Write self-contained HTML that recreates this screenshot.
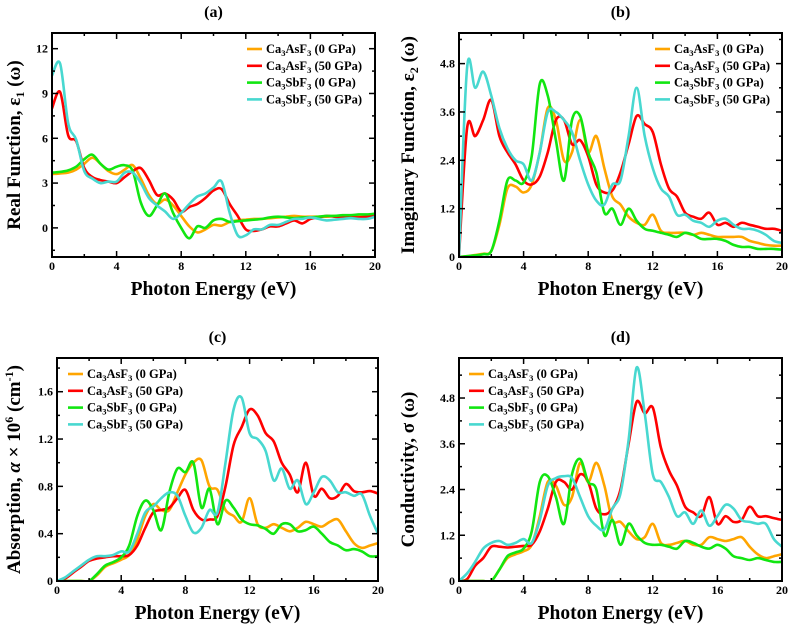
<!DOCTYPE html>
<html><head><meta charset="utf-8"><style>
body{margin:0;background:#fff}
svg{display:block;font-family:"Liberation Serif",serif;font-weight:bold}
</style></head><body>
<svg id="fig" width="789" height="629" viewBox="0 0 789 629" xmlns="http://www.w3.org/2000/svg"></svg>
<script>
const energy = [0,0.5,1,1.5,2,2.5,3,3.5,4,4.5,5,5.5,6,6.5,7,7.5,8,8.5,9,9.5,10,10.5,11,11.5,12,12.5,13,13.5,14,14.5,15,15.5,16,16.5,17,17.5,18,18.5,19,19.5,20];
const seriesNames = ["Ca3AsF3 (0 GPa)","Ca3AsF3 (50 GPa)","Ca3SbF3 (0 GPa)","Ca3SbF3 (50 GPa)"];
// (a) real part eps1
const epsRealAs0 = [3.6,3.65,3.7,3.9,4.3,4.7,4.3,3.8,3.6,3.9,4.2,3.3,2.2,1.6,1.9,1.5,0.8,0.1,-0.3,-0.1,0.2,0.15,0.4,0.5,0.55,0.6,0.6,0.65,0.7,0.75,0.8,0.75,0.75,0.75,0.75,0.8,0.8,0.8,0.8,0.85,0.9];
const epsRealAs50 = [8.0,9.1,6.2,5.8,4.0,3.4,3.2,3.1,3.0,3.4,3.8,4.0,3.2,2.2,2.3,1.9,1.1,1.4,1.6,2.0,2.5,2.6,1.6,0.8,-0.1,-0.2,-0.1,0.1,0.1,0.3,0.5,0.3,0.6,0.7,0.8,0.75,0.7,0.7,0.7,0.75,0.85];
const epsRealSb0 = [3.7,3.75,3.85,4.1,4.6,4.9,4.3,3.9,4.1,4.2,3.8,1.7,0.8,1.5,2.3,1.0,0.0,-0.7,0.1,0.0,0.5,0.6,0.4,0.45,0.5,0.55,0.6,0.7,0.75,0.7,0.65,0.7,0.7,0.75,0.8,0.8,0.85,0.85,0.9,0.9,0.95];
const epsRealSb50 = [10.2,11.0,7.0,5.9,3.8,3.3,3.0,3.1,3.1,3.7,3.7,3.0,2.0,1.5,1.1,0.6,1.0,1.6,2.1,2.3,2.7,3.1,1.0,-0.5,-0.5,-0.1,-0.1,0.2,0.2,0.4,0.6,0.6,0.7,0.6,0.5,0.55,0.6,0.65,0.6,0.6,0.75];
// (b) imaginary part eps2
const epsImagAs0 = [0,0.02,0.05,0.08,0.15,0.8,1.7,1.75,1.6,1.8,2.6,3.7,3.4,2.4,2.6,3.4,2.6,3.0,2.2,1.5,1.3,1.0,0.85,0.8,1.05,0.65,0.6,0.6,0.6,0.55,0.6,0.55,0.5,0.5,0.5,0.5,0.4,0.35,0.3,0.28,0.28];
const epsImagAs50 = [0,3.2,3.0,3.4,3.9,3.0,2.6,2.3,1.9,1.8,2.0,2.6,3.4,3.4,2.8,2.9,2.5,1.8,1.6,1.65,2.1,2.8,3.5,3.3,3.1,2.3,1.7,1.5,1.1,1.0,0.95,1.1,0.8,0.85,0.75,0.85,0.8,0.75,0.7,0.7,0.65];
const epsImagSb0 = [0,0.02,0.04,0.07,0.15,0.9,1.9,1.9,1.85,2.5,4.3,4.0,2.9,1.9,3.4,3.5,2.6,2.1,1.1,1.2,0.8,1.2,0.9,0.7,0.65,0.6,0.55,0.5,0.6,0.55,0.45,0.45,0.45,0.4,0.3,0.25,0.25,0.2,0.2,0.2,0.18];
const epsImagSb50 = [0,4.7,4.2,4.6,4.0,3.2,2.7,2.4,2.3,1.9,2.6,3.6,3.6,3.4,3.1,2.4,1.8,1.4,1.3,1.8,1.9,3.0,4.2,3.0,2.2,1.7,1.5,1.05,1.05,0.9,0.85,0.75,0.9,0.95,0.8,0.7,0.7,0.65,0.55,0.4,0.35];
// (c) absorption x1e6
const absAs0 = [0,0,0,0,0,0.05,0.12,0.15,0.18,0.22,0.35,0.55,0.65,0.6,0.6,0.75,0.9,1.0,1.02,0.8,0.77,0.6,0.55,0.5,0.7,0.48,0.45,0.48,0.45,0.42,0.45,0.5,0.48,0.46,0.5,0.52,0.42,0.32,0.28,0.3,0.32];
const absAs50 = [0,0.02,0.07,0.12,0.17,0.19,0.2,0.21,0.21,0.22,0.3,0.45,0.58,0.6,0.62,0.7,0.77,0.6,0.52,0.52,0.55,0.8,1.15,1.3,1.45,1.4,1.25,1.18,1.0,0.9,0.75,1.0,0.72,0.78,0.7,0.72,0.82,0.76,0.75,0.76,0.74];
const absSb0 = [0,0,0,0,0,0.06,0.13,0.16,0.2,0.3,0.55,0.68,0.6,0.43,0.75,0.95,0.92,1.0,0.62,0.78,0.48,0.68,0.62,0.52,0.48,0.47,0.44,0.4,0.48,0.48,0.42,0.43,0.46,0.4,0.33,0.3,0.26,0.27,0.25,0.21,0.21];
const absSb50 = [0,0.03,0.08,0.13,0.18,0.21,0.21,0.22,0.25,0.25,0.4,0.58,0.63,0.7,0.75,0.72,0.55,0.41,0.45,0.6,0.58,1.0,1.45,1.55,1.25,1.2,1.1,0.85,0.95,0.78,0.85,0.65,0.75,0.88,0.85,0.75,0.75,0.72,0.73,0.55,0.4];
// (d) conductivity
const condAs0 = [0,0,0,0,0,0.3,0.6,0.7,0.78,0.95,1.7,2.6,2.5,2.0,2.2,3.1,2.6,3.1,2.5,1.6,1.55,1.3,1.1,1.15,1.5,1.0,0.95,1.0,1.05,0.95,0.95,1.15,1.1,1.05,1.1,1.15,0.9,0.7,0.6,0.65,0.7];
const condAs50 = [0,0.05,0.4,0.6,0.9,0.9,0.88,0.9,0.92,0.95,1.3,1.9,2.6,2.6,2.4,2.8,2.6,1.9,1.75,1.9,2.4,3.6,4.7,4.4,4.55,3.5,2.9,2.5,1.95,1.8,1.7,2.2,1.5,1.7,1.55,1.6,1.95,1.7,1.7,1.65,1.6];
const condSb0 = [0,0,0,0,0,0.3,0.65,0.75,0.85,1.3,2.6,2.75,2.2,1.5,2.8,3.2,2.6,2.4,1.2,1.6,0.95,1.5,1.2,1.0,0.95,0.95,0.9,0.85,1.05,1.0,0.9,0.85,0.95,0.85,0.65,0.6,0.55,0.6,0.55,0.5,0.5];
const condSb50 = [0,0.2,0.5,0.85,1.0,1.05,0.95,1.0,1.1,1.0,1.6,2.5,2.7,2.75,2.7,2.2,1.7,1.45,1.35,1.9,2.3,3.7,5.6,4.4,2.8,2.6,2.2,1.7,1.8,1.5,1.85,1.45,1.7,2.0,1.9,1.6,1.55,1.5,1.5,1.1,0.9];
const xTicks = [0,4,8,12,16,20];
const yTicksA = [0,3,6,9,12];
const yTicksB = [0,1.2,2.4,3.6,4.8];
const yTicksC = [0,0.4,0.8,1.2,1.6];
const yTicksD = [0,1.2,2.4,3.6,4.8];
const yTickLabelsA = ["0","3","6","9","12"];
const yTickLabelsB = ["0","1.2","2.4","3.6","4.8"];
const yTickLabelsC = ["0","0.4","0.8","1.2","1.6"];
const yTickLabelsD = ["0","1.2","2.4","3.6","4.8"];

const colors = ["#FFA500","#FF0000","#11E611","#48D8D0"];
const NS = "http://www.w3.org/2000/svg";
const svg = document.getElementById('fig');
function mk(tag, attrs, parent){const e=document.createElementNS(NS,tag);for(const k in attrs)e.setAttribute(k,attrs[k]);(parent||svg).appendChild(e);return e;}

function smoothPath(pts){
  let d="M"+pts[0][0].toFixed(1)+","+pts[0][1].toFixed(1);
  for(let i=0;i<pts.length-1;i++){
    const p0=pts[Math.max(i-1,0)],p1=pts[i],p2=pts[i+1],p3=pts[Math.min(i+2,pts.length-1)];
    const c1=[p1[0]+(p2[0]-p0[0])/6,p1[1]+(p2[1]-p0[1])/6];
    const c2=[p2[0]-(p3[0]-p1[0])/6,p2[1]-(p3[1]-p1[1])/6];
    d+="C"+c1[0].toFixed(1)+","+c1[1].toFixed(1)+" "+c2[0].toFixed(1)+","+c2[1].toFixed(1)+" "+p2[0].toFixed(1)+","+p2[1].toFixed(1);
  }
  return d;
}

function panel(cfg){
  const g=mk('g',{});
  
  
  const {L,R,T,B,ymin,ymax}=cfg;
  const xs=v=>L+(v-0)/20*(R-L);
  const ys=v=>B-(v-ymin)/(ymax-ymin)*(B-T);
  const clipId='clip-'+cfg.id;
  const cp=mk('clipPath',{id:clipId},g);
  mk('rect',{x:L,y:T,width:R-L,height:B-T},cp);
  const sg=mk('g',{'clip-path':'url(#'+clipId+')'},g);
  cfg.series.forEach((s,i)=>{
    const pts=energy.map((e,j)=>[xs(e),ys(s[j])]);
    const p=mk('path',{d:smoothPath(pts),fill:'none',stroke:colors[i],'stroke-width':2.6,'stroke-linejoin':'round'},sg);
    
    
  });
  const fr=mk('rect',{x:L,y:T,width:R-L,height:B-T,fill:'none',stroke:'#000','stroke-width':2},g);
  
  
  for(let v=0;v<=20;v+=2){
    const len=(v%4===0)?6:3;
    mk('line',{x1:xs(v),x2:xs(v),y1:B,y2:B-len,stroke:'#000','stroke-width':1.5},g);
    mk('line',{x1:xs(v),x2:xs(v),y1:T,y2:T+len,stroke:'#000','stroke-width':1.5},g);
  }
  xTicks.forEach(v=>{
    const t=mk('text',{x:xs(v),y:B+13,'text-anchor':'middle','font-size':12},g);
    t.textContent=String(v);
    
    
  });
  const step=cfg.yt[1]-cfg.yt[0];
  for(let v=cfg.yt[0]-step; v<=ymax+1e-9; v+=step/2){
    if(v<ymin-1e-9) continue;
    const major=Math.abs(((v-cfg.yt[0])/step)-Math.round((v-cfg.yt[0])/step))<1e-6;
    const len=major?6:3;
    mk('line',{x1:L,x2:L+len,y1:ys(v),y2:ys(v),stroke:'#000','stroke-width':1.5},g);
    mk('line',{x1:R,x2:R-len,y1:ys(v),y2:ys(v),stroke:'#000','stroke-width':1.5},g);
  }
  cfg.yt.forEach((v,i)=>{
    const t=mk('text',{x:L-4,y:ys(v)+4,'text-anchor':'end','font-size':12},g);
    t.textContent=cfg.ytl[i];
    
    
  });
  const tt=mk('text',{x:(L+R)/2,y:T-16,'text-anchor':'middle','font-size':16},g);
  tt.textContent=cfg.title;
  
  
  const xl=mk('text',{x:(L+R)/2,y:B+38,'text-anchor':'middle','font-size':19.5},g);
  xl.textContent="Photon Energy (eV)";
  
  
  const yl=mk('text',{transform:'translate('+cfg.ylx+','+(T+B)/2+') rotate(-90)','text-anchor':'middle','font-size':19},g);
  yl.innerHTML=cfg.ylabel;
  
  
  cfg.series.forEach((s,i)=>{
    const y=cfg.legY+i*16.8;
    const lg=mk('g',{},g);
    
    
    mk('line',{x1:cfg.legX,x2:cfg.legX+15,y1:y,y2:y,stroke:colors[i],'stroke-width':2.6},lg);
    const t=mk('text',{x:cfg.legX+19,y:y+4,'font-size':12.5},lg);
    const parts=seriesNames[i].match(/^Ca3(As|Sb)F3 (.*)$/);
    t.innerHTML='Ca<tspan font-size="8.5" dy="3">3</tspan><tspan dy="-3">'+parts[1]+'F</tspan><tspan font-size="8.5" dy="3">3</tspan><tspan dy="-3"> '+parts[2]+'</tspan>';
  });
}

panel({id:'a',title:'(a)',L:52,R:375,T:33,B:257,ymin:-1.95,ymax:13.05,yt:yTicksA,ytl:yTickLabelsA,
  series:[epsRealAs0,epsRealAs50,epsRealSb0,epsRealSb50],legX:247,legY:49,ylx:20,
  ylabel:'Real Function, ε<tspan font-size="12" dy="4">1</tspan><tspan dy="-4"> (ω)</tspan>'});
panel({id:'b',title:'(b)',L:459,R:782,T:33,B:257,ymin:0,ymax:5.56,yt:yTicksB,ytl:yTickLabelsB,
  series:[epsImagAs0,epsImagAs50,epsImagSb0,epsImagSb50],legX:655,legY:49,ylx:414,
  ylabel:'Imaginary Function, ε<tspan font-size="12" dy="4">2</tspan><tspan dy="-4"> (ω)</tspan>'});
panel({id:'c',title:'(c)',L:57,R:378,T:358,B:581,ymin:0,ymax:1.885,yt:yTicksC,ytl:yTickLabelsC,
  series:[absAs0,absAs50,absSb0,absSb50],legX:68,legY:374,ylx:20,
  ylabel:'Absorption, <tspan font-style="italic">α</tspan> × 10<tspan font-size="12" dy="-7">6</tspan><tspan dy="7"> (cm</tspan><tspan font-size="12" dy="-7">-1</tspan><tspan dy="7">)</tspan>'});
panel({id:'d',title:'(d)',L:459,R:782,T:358,B:581,ymin:0,ymax:5.85,yt:yTicksD,ytl:yTickLabelsD,
  series:[condAs0,condAs50,condSb0,condSb50],legX:469,legY:374,ylx:414,
  ylabel:'Conductivity, σ (ω)'});
</script>
</body></html>
